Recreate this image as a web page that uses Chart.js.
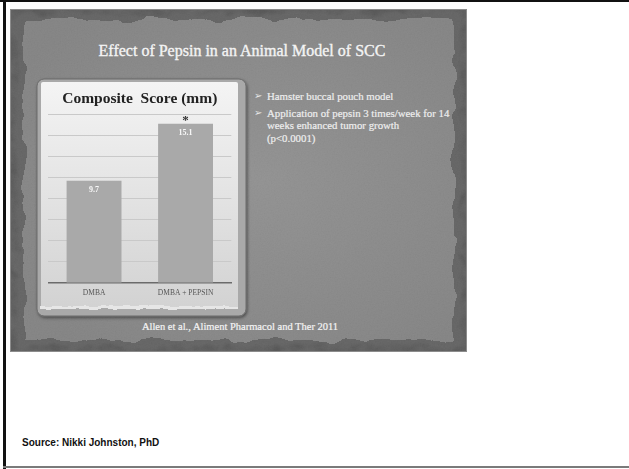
<!DOCTYPE html>
<html>
<head>
<meta charset="utf-8">
<title>Effect of Pepsin in an Animal Model of SCC</title>
<script src="https://cdn.jsdelivr.net/npm/chart.js@4.4.1/dist/chart.umd.min.js"></script>
<style>
  html, body { margin: 0; padding: 0; background: #ffffff; }
  body { width: 629px; height: 469px; position: relative; overflow: hidden; }
  .frame-top { position: absolute; left: 0; top: 0; width: 629px; height: 2px; background: #111; }
  .frame-left { position: absolute; left: 3px; top: 0; width: 3px; height: 469px; background: #111; }
  .frame-bottom { position: absolute; left: 3px; top: 466px; width: 626px; height: 2px; background: #7a7a7a; }
  #deco { position: absolute; left: 0; top: 0; }
  .slide-title {
    position: absolute; left: 90px; width: 304px; top: 41px;
    text-align: center; font: 16px/20px "Liberation Serif", serif; color: #f4f4f4;
    white-space: nowrap; -webkit-text-stroke: 0.35px #f4f4f4;
  }
  .bullets {
    position: absolute; left: 254px; top: 90px; margin: 0; padding: 0; list-style: none;
    font: 10.8px/12.5px "Liberation Serif", serif; color: #eeeeee;
    -webkit-text-stroke: 0.2px #eeeeee;
  }
  .bullets li { position: relative; padding-left: 13px; margin-bottom: 4px; white-space: nowrap; }
  .bullets li::before {
    content: "\27A2"; position: absolute; left: 0; top: 0;
    font: 10px/12.5px "DejaVu Sans", sans-serif; color: #e6e6e6; -webkit-text-stroke: 0;
  }
  .citation {
    position: absolute; left: 120px; width: 240px; top: 320px;
    text-align: center; font: 10.5px/13px "Liberation Serif", serif; color: #f4f4f4; white-space: nowrap;
    -webkit-text-stroke: 0.2px #f4f4f4;
  }
  .source {
    position: absolute; left: 22px; top: 436px;
    font: bold 10px/14px "Liberation Sans", Arial, sans-serif; color: #111; white-space: nowrap;
  }
  #chartBox { position: absolute; left: 41px; top: 82px; width: 197px; height: 227px; }
</style>
</head>
<body>
<div class="frame-top"></div>
<div class="frame-left"></div>
<div class="frame-bottom"></div>

<!-- slide backdrop: dark mottled board, torn paper sheet, framed chart card -->
<svg id="deco" width="629" height="469" xmlns="http://www.w3.org/2000/svg">
  <defs>
    <clipPath id="slideClip"><rect x="10" y="9" width="457" height="343"/></clipPath>
    <filter id="tornEdge" x="-5%" y="-5%" width="110%" height="110%">
      <feTurbulence type="fractalNoise" baseFrequency="0.035" numOctaves="3" seed="7" result="n"/>
      <feDisplacementMap in="SourceGraphic" in2="n" scale="12" xChannelSelector="R" yChannelSelector="G" result="d"/>
      <feGaussianBlur in="d" stdDeviation="0.7"/>
    </filter>
    <filter id="tornEdge2" x="-5%" y="-5%" width="110%" height="110%">
      <feTurbulence type="fractalNoise" baseFrequency="0.05" numOctaves="3" seed="3" result="n"/>
      <feDisplacementMap in="SourceGraphic" in2="n" scale="14" xChannelSelector="R" yChannelSelector="G" result="d"/>
      <feGaussianBlur in="d" stdDeviation="1.5"/>
    </filter>
    <filter id="tornStrip" x="-2%" y="-60%" width="104%" height="220%">
      <feTurbulence type="fractalNoise" baseFrequency="0.09" numOctaves="2" seed="5" result="n"/>
      <feDisplacementMap in="SourceGraphic" in2="n" scale="5" xChannelSelector="R" yChannelSelector="G"/>
    </filter>
    <filter id="grain" x="0" y="0" width="1" height="1">
      <feTurbulence type="fractalNoise" baseFrequency="0.7" numOctaves="2" seed="2"/>
      <feColorMatrix type="matrix" values="1 0 0 0 0  1 0 0 0 0  1 0 0 0 0  0 0 0 0 0.04"/>
    </filter>
    <filter id="mottle" x="0" y="0" width="1" height="1">
      <feTurbulence type="fractalNoise" baseFrequency="0.06" numOctaves="3" seed="11"/>
      <feColorMatrix type="matrix" values="1 0 0 0 0  1 0 0 0 0  1 0 0 0 0  0 0 0 0 0.14"/>
    </filter>
    <filter id="cardShadow" x="-10%" y="-10%" width="120%" height="120%">
      <feDropShadow dx="1" dy="1.5" stdDeviation="1.5" flood-color="#000" flood-opacity="0.45"/>
    </filter>
    <radialGradient id="paperFill" cx="0.55" cy="0.5" r="0.65">
      <stop offset="0" stop-color="#919191"/>
      <stop offset="1" stop-color="#838383"/>
    </radialGradient>
    <linearGradient id="cardFill" x1="0" y1="0" x2="0" y2="1">
      <stop offset="0" stop-color="#f4f4f4"/>
      <stop offset="0.5" stop-color="#e3e3e3"/>
      <stop offset="1" stop-color="#d2d2d2"/>
    </linearGradient>
  </defs>

  <g clip-path="url(#slideClip)">
    <rect x="10" y="9" width="457" height="343" fill="#4e4e4e"/>
    <rect x="10" y="9" width="457" height="343" fill="#000" filter="url(#mottle)"/>
    <rect x="17" y="14" width="444" height="332" fill="#636363" filter="url(#tornEdge2)"/>
    <rect x="24" y="20" width="430" height="320" fill="url(#paperFill)" filter="url(#tornEdge)"/>
    <rect x="10" y="9" width="457" height="343" fill="#000" filter="url(#grain)"/>
  </g>
  <rect x="10.5" y="9.5" width="456" height="342" fill="none" stroke="#8c8c8c" stroke-width="1"/>

  <rect x="37" y="79" width="209" height="237" rx="7" ry="7" fill="#a9a9a9" stroke="#6a6a6a" stroke-width="1" filter="url(#cardShadow)"/>
  <rect x="41" y="82" width="197" height="228" rx="2" ry="2" fill="url(#cardFill)"/>
  <rect x="41" y="306" width="197" height="6" fill="#e6e6e6" filter="url(#tornStrip)"/>
  <rect x="41" y="309" width="197" height="5" fill="#a9a9a9" filter="url(#tornStrip)"/>
</svg>

<div class="slide-title">Effect of Pepsin in an Animal Model of SCC</div>
<ul class="bullets">
  <li>Hamster buccal pouch model</li>
  <li>Application of pepsin 3 times/week for 14<br>weeks enhanced tumor growth<br>(p&lt;0.0001)</li>
</ul>
<div class="citation">Allen et al., Aliment Pharmacol and Ther 2011</div>
<div class="source">Source: Nikki Johnston, PhD</div>

<div id="chartBox"><canvas id="chart"></canvas></div>

<script>
// Composite tumour score per treatment group
const categories = ['DMBA', 'DMBA + PEPSIN'];
const compositeScores = [9.7, 15.1];
const significanceMarks = ['', '*'];
const yAxisMin = 0;
const yAxisMax = 16;
const yAxisStep = 2;

// Value inside the top of each bar and significance star above it
const barAnnotations = {
  id: 'barAnnotations',
  afterDatasetsDraw(chart) {
    const ctx = chart.ctx;
    const meta = chart.getDatasetMeta(0);
    meta.data.forEach((bar, i) => {
      ctx.save();
      ctx.textAlign = 'center';
      ctx.textBaseline = 'middle';
      ctx.fillStyle = '#f8f8f8';
      ctx.font = 'bold 8px "Liberation Serif", serif';
      ctx.fillText(compositeScores[i].toFixed(1), bar.x, bar.y + 9);
      if (significanceMarks[i]) {
        ctx.fillStyle = '#333333';
        ctx.font = 'bold 13px "Liberation Serif", serif';
        ctx.fillText(significanceMarks[i], bar.x, bar.y - 3);
      }
      ctx.restore();
    });
  }
};

new Chart(document.getElementById('chart'), {
  type: 'bar',
  data: {
    labels: categories,
    datasets: [{
      label: 'Composite Score (mm)',
      data: compositeScores,
      backgroundColor: '#a9a9a9',
      borderWidth: 0,
      barPercentage: 0.6,
      categoryPercentage: 1.0
    }]
  },
  options: {
    responsive: true,
    maintainAspectRatio: false,
    animation: false,
    layout: { padding: { left: 7.3, right: 6.7, top: 0, bottom: 5 } },
    plugins: {
      legend: { display: false },
      tooltip: { enabled: false },
      title: {
        display: true,
        text: 'Composite  Score (mm)',
        color: '#222222',
        font: { family: '"Liberation Serif", serif', size: 15.5, weight: 'bold', lineHeight: 1.2 },
        padding: { top: 7.3, bottom: 6.4 }
      }
    },
    scales: {
      x: {
        grid: { display: false, drawTicks: false },
        border: { display: true, color: '#6b6b6b', width: 1.5 },
        ticks: {
          color: '#555555',
          padding: 6,
          font: { family: '"Liberation Serif", serif', size: 7.5 }
        }
      },
      y: {
        min: yAxisMin,
        max: yAxisMax,
        ticks: { display: false, stepSize: yAxisStep },
        border: { display: false },
        grid: {
          drawTicks: false,
          lineWidth: 1,
          color: (c) => (c.tick && c.tick.value === yAxisMin) ? 'rgba(0,0,0,0)' : '#c9c9c9'
        },
        afterFit(scale) { scale.width = 0; }
      }
    }
  },
  plugins: [barAnnotations]
});
</script>
</body>
</html>
